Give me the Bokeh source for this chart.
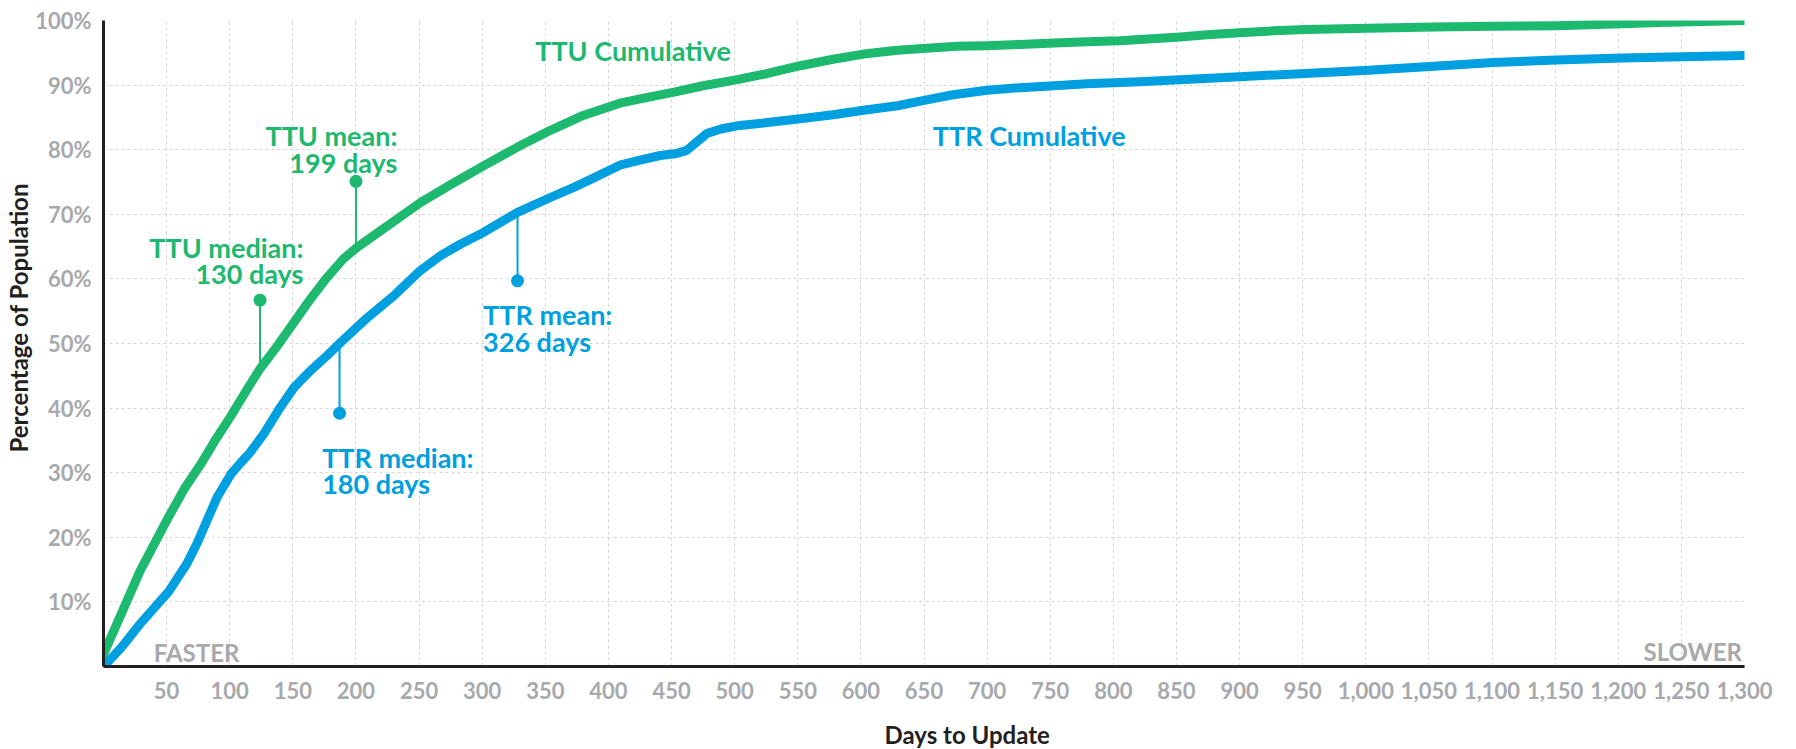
from bokeh.plotting import figure
from bokeh.models import Range1d, FixedTicker, NumeralTickFormatter, Title
from bokeh.core.properties import value
from bokeh.embed import file_html
from bokeh.resources import INLINE

# ---------------- data ----------------
ttu_days = [0, 14, 29, 43, 52, 64, 77, 90, 101, 114,
            124, 138, 151, 164, 177, 190, 201, 222, 251, 275,
            301, 328, 354, 380, 409, 431, 452, 475, 501, 526,
            552, 578, 602, 629, 652, 676, 700, 726, 753, 779,
            805, 821, 853, 874, 900, 927, 952, 1002, 1054, 1101,
            1151, 1203, 1233, 1300]
ttu_pct = [1.9, 8.1, 14.8, 20.0, 23.3, 27.5, 31.3, 35.5, 38.8, 43.0,
           46.1, 49.7, 53.3, 56.9, 60.2, 63.1, 64.9, 67.8, 71.8, 74.6,
           77.5, 80.4, 83.0, 85.3, 87.2, 88.1, 88.9, 89.9, 90.8, 91.8,
           93.0, 94.0, 94.8, 95.4, 95.7, 96.0, 96.1, 96.3, 96.5, 96.7,
           96.85, 97.05, 97.45, 97.8, 98.1, 98.4, 98.6, 98.8, 99.0, 99.1,
           99.2, 99.5, 99.7, 100.0]

ttr_days = [2, 14, 29, 52, 66, 74, 82, 90, 101, 109,
            116, 127, 140, 151, 164, 177, 188, 209, 230, 251,
            267, 283, 301, 328, 354, 373, 388, 409, 425, 441,
            454, 462, 470, 478, 489, 502, 526, 552, 578, 602,
            629, 652, 673, 700, 726, 753, 779, 821, 900, 952,
            1002, 1054, 1101, 1151, 1203, 1300]
ttr_pct = [0.4, 2.9, 6.6, 11.7, 15.9, 19.0, 22.6, 26.2, 29.8, 31.6,
           33.1, 36.0, 40.1, 43.2, 45.8, 48.1, 50.2, 54.0, 57.4, 61.3,
           63.6, 65.4, 67.2, 70.3, 72.6, 74.2, 75.6, 77.6, 78.4, 79.1,
           79.4, 79.9, 81.2, 82.5, 83.2, 83.7, 84.2, 84.8, 85.4, 86.1,
           86.8, 87.7, 88.5, 89.2, 89.6, 89.9, 90.2, 90.5, 91.3, 91.8,
           92.3, 92.9, 93.5, 93.9, 94.2, 94.6]

x_ticks = [50, 100, 150, 200, 250, 300, 350, 400, 450, 500, 550, 600, 650, 700, 750, 800,
           850, 900, 950, 1000, 1050, 1100, 1150, 1200, 1250, 1300]
y_ticks = [10, 20, 30, 40, 50, 60, 70, 80, 90, 100]
y_tick_labels = ["10%", "20%", "30%", "40%", "50%", "60%", "70%", "80%", "90%", "100%"]

# stat markers: day, dot level, level where the stem meets the curve
ttu_marker_days = [124, 200]
ttu_marker_dot = [56.7, 75.1]
ttu_marker_curve = [46.1, 64.9]
ttr_marker_days = [187, 328]
ttr_marker_dot = [39.2, 59.7]
ttr_marker_curve = [50.2, 70.3]

# texts
ttu_text_lines = ["TTU median:", "130 days", "TTU mean:", "199 days"]
ttr_text_lines = ["TTR median:", "180 days", "TTR mean:", "326 days"]
series_names = ["TTU Cumulative", "TTR Cumulative"]
speed_words = ["FASTER", "SLOWER"]
x_title = "Days to Update"
y_title = "Percentage of Population"

# ---------------- styling ----------------
GREEN = "#1DB96F"
BLUE = "#009FDF"
GRAY = "#A7A9AC"
DARK = "#231F20"
FONT = "Lato"

p = figure(width=1780, height=749,
           x_range=Range1d(0, 1300), y_range=Range1d(0, 100),
           output_backend="svg", toolbar_location=None,
           min_border_left=103, min_border_top=20, min_border_right=36, min_border_bottom=83)
p.outline_line_color = None
p.background_fill_color = "white"
p.border_fill_color = "white"

# grid
p.xgrid.ticker = FixedTicker(ticks=x_ticks)
p.ygrid.ticker = FixedTicker(ticks=y_ticks)
for g in (p.xgrid, p.ygrid):
    g.grid_line_color = "#D6D6D6"
    g.grid_line_dash = "3 3"
    g.grid_line_width = 1

# axes
p.xaxis.ticker = FixedTicker(ticks=x_ticks)
p.xaxis.formatter = NumeralTickFormatter(format="0,0")
p.yaxis.ticker = FixedTicker(ticks=y_ticks)
p.yaxis.major_label_overrides = {t: l for t, l in zip(y_ticks, y_tick_labels)}
for ax in (p.xaxis, p.yaxis):
    ax.axis_line_color = DARK
    ax.axis_line_width = 3
    ax.major_tick_line_color = None
    ax.minor_tick_line_color = None
    ax.major_tick_out = 0
    ax.major_tick_in = 0
    ax.major_label_text_font = FONT
    ax.major_label_text_font_style = "bold"
    ax.major_label_text_font_size = "22px"
    ax.major_label_text_color = GRAY
p.xaxis.major_label_standoff = 15
p.yaxis.major_label_standoff = 12
# a blank (non-breaking space) axis label only adds a little room before the x title
p.xaxis.axis_label = "\u00a0"
p.xaxis.axis_label_text_font_size = "10px"
p.xaxis.axis_label_standoff = 2

# axis titles as side titles (off-centre like the original)
p.add_layout(Title(text=x_title, align="left", offset=781, standoff=0,
                   text_font=FONT, text_font_style="bold", text_font_size="24px",
                   text_color=DARK), "below")
p.add_layout(Title(text=y_title, align="left", offset=214, standoff=0,
                   text_font=FONT, text_font_style="bold", text_font_size="24px",
                   text_color=DARK), "left")

# connector stems + dots
for d, top, bot in zip(ttu_marker_days, ttu_marker_dot, ttu_marker_curve):
    p.line([d, d], [top, bot], line_color=GREEN, line_width=2)
for d, top, bot in zip(ttr_marker_days, ttr_marker_dot, ttr_marker_curve):
    p.line([d, d], [top, bot], line_color=BLUE, line_width=2)
p.scatter(ttu_marker_days, ttu_marker_dot, size=13, color=GREEN, line_color=None)
p.scatter(ttr_marker_days, ttr_marker_dot, size=13, color=BLUE, line_color=None)

# curves
p.line(ttr_days, ttr_pct, line_color=BLUE, line_width=9, line_cap="round", line_join="round")
p.line(ttu_days, ttu_pct, line_color=GREEN, line_width=9, line_cap="round", line_join="round")

# text annotations
def txt(x, y, s, color, align, size="27px"):
    p.text(x=[x], y=[y], text=[s], text_color=color, text_align=align,
           text_baseline="alphabetic", text_font=value(FONT), text_font_style="bold",
           text_font_size=size)

txt(158.4, 64.9, ttu_text_lines[0], GREEN, "right")
txt(158.4, 60.8, ttu_text_lines[1], GREEN, "right")
txt(232.8, 82.2, ttu_text_lines[2], GREEN, "right")
txt(232.8, 78.0, ttu_text_lines[3], GREEN, "right")
txt(173.2, 32.4, ttr_text_lines[0], BLUE, "left")
txt(173.2, 28.3, ttr_text_lines[1], BLUE, "left")
txt(300.7, 54.5, ttr_text_lines[2], BLUE, "left")
txt(300.7, 50.3, ttr_text_lines[3], BLUE, "left")
txt(342, 95.4, series_names[0], GREEN, "left")
txt(657, 82.2, series_names[1], BLUE, "left")
txt(39.8, 2.2, speed_words[0], GRAY, "left", "24px")
txt(1298, 2.3, speed_words[1], GRAY, "right", "24px")

open("out.html", "w").write(file_html(p, INLINE))
